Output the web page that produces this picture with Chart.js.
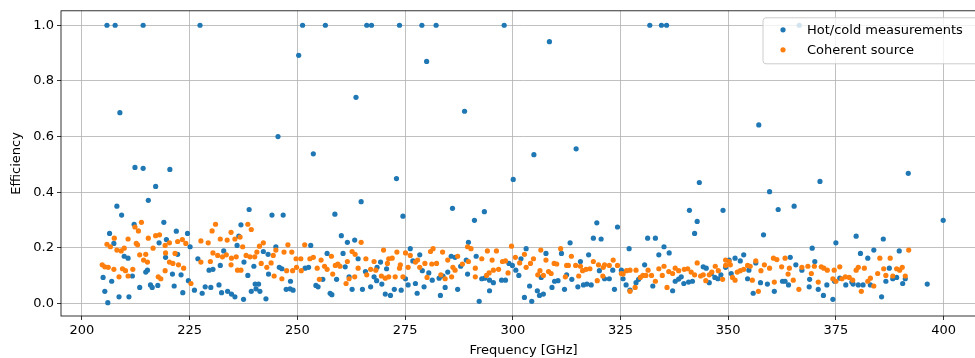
<!DOCTYPE html>
<html>
<head>
<meta charset="utf-8">
<script src="https://cdn.jsdelivr.net/npm/chart.js@4.4.1/dist/chart.umd.min.js"></script>
<style>
  html, body { margin: 0; padding: 0; background: #fff; overflow: hidden; }
</style>
</head>
<body>
<canvas id="chart" width="1000" height="358"></canvas>
<script>
// === data (frequency in GHz, efficiency) ===
const hotColdPoints = [
  [205.8, 1.0], [207.7, 1.0], [208.8, 0.686], [212.3, 0.489], [214.2, 0.486], [214.2, 1.0], [220.4, 0.482],
  [227.4, 1.0], [245.5, 0.600], [250.3, 0.892], [251.2, 1.0], [253.7, 0.538], [256.5, 1.0], [263.6, 0.741],
  [266.1, 1.0], [267.2, 1.0], [273.0, 0.449], [273.7, 1.0], [278.9, 1.0], [280.0, 0.870], [282.2, 1.0],
  [288.8, 0.691], [298.0, 1.0], [300.1, 0.446], [304.9, 0.535], [308.5, 0.941], [314.7, 0.556], [331.8, 1.0],
  [334.5, 1.0], [335.7, 1.0], [343.3, 0.435], [357.1, 0.642], [366.5, 1.0], [371.3, 0.439], [391.8, 0.468],
  [217.1, 0.421], [215.4, 0.371], [208.1, 0.350], [209.2, 0.318], [212.1, 0.285], [219.0, 0.292], [206.4, 0.252],
  [221.9, 0.260], [224.5, 0.252], [207.4, 0.216], [217.9, 0.218], [219.6, 0.230], [225.1, 0.204], [209.8, 0.170],
  [210.7, 0.163], [219.4, 0.166], [222.2, 0.177], [215.2, 0.120], [214.8, 0.113], [204.9, 0.094], [206.9, 0.080],
  [211.7, 0.099], [221.0, 0.106], [223.0, 0.103], [224.7, 0.082], [213.4, 0.058], [215.9, 0.067], [216.3, 0.058],
  [217.6, 0.065], [221.4, 0.063], [205.3, 0.044], [208.6, 0.024], [210.9, 0.024], [206.0, 0.003], [223.4, 0.039],
  [226.1, 0.048], [226.9, 0.161], [227.9, 0.037], [228.6, 0.060], [229.9, 0.058], [229.5, 0.120], [230.4, 0.123],
  [231.8, 0.067], [232.1, 0.137], [232.9, 0.189], [232.4, 0.039], [233.8, 0.044], [234.7, 0.034], [235.5, 0.024],
  [236.0, 0.209], [236.4, 0.242], [236.9, 0.283], [237.5, 0.015],
  [238.8, 0.338], [244.1, 0.318], [246.7, 0.318], [264.8, 0.366], [258.7, 0.321], [260.2, 0.244], [261.6, 0.220],
  [263.3, 0.228], [253.1, 0.209], [245.0, 0.204], [242.1, 0.187], [243.2, 0.177], [256.9, 0.180], [260.6, 0.180],
  [264.1, 0.161], [237.6, 0.149], [239.9, 0.134], [245.8, 0.130], [246.4, 0.125], [251.8, 0.127], [252.6, 0.130],
  [261.1, 0.132], [265.8, 0.115], [268.5, 0.130], [270.7, 0.125], [269.3, 0.149], [238.5, 0.101], [243.3, 0.106],
  [248.4, 0.080], [255.9, 0.087], [259.1, 0.087], [262.0, 0.096], [267.8, 0.096], [268.4, 0.082], [269.6, 0.070],
  [240.2, 0.070], [241.0, 0.070], [240.4, 0.053], [241.3, 0.044], [239.3, 0.044], [247.4, 0.051], [248.3, 0.053],
  [249.0, 0.048], [254.3, 0.065], [254.8, 0.060], [257.6, 0.037], [258.0, 0.032], [262.7, 0.051], [265.1, 0.051],
  [267.0, 0.060], [270.4, 0.034], [242.7, 0.017],
  [274.5, 0.314], [286.0, 0.342], [291.1, 0.299], [293.4, 0.330], [289.7, 0.220], [276.2, 0.197], [276.8, 0.153],
  [278.4, 0.175], [285.7, 0.170], [286.6, 0.166], [289.2, 0.156], [291.5, 0.170], [279.0, 0.118], [280.5, 0.110],
  [287.9, 0.134], [289.5, 0.106], [299.1, 0.144], [299.9, 0.137], [300.7, 0.120], [301.9, 0.161], [303.1, 0.197],
  [275.1, 0.089], [275.7, 0.067], [277.4, 0.072], [279.4, 0.060], [281.3, 0.084], [282.9, 0.091], [283.8, 0.099],
  [284.9, 0.113], [284.3, 0.058], [283.2, 0.029], [287.2, 0.051], [292.8, 0.089], [293.5, 0.091], [294.6, 0.084],
  [295.5, 0.075], [294.6, 0.046], [297.4, 0.084], [298.3, 0.084], [301.4, 0.101], [303.9, 0.063], [302.7, 0.022],
  [304.4, 0.008], [292.2, 0.008], [277.8, 0.037], [274.1, 0.048], [272.5, 0.051], [271.6, 0.029],
  [319.5, 0.290], [324.3, 0.275], [318.7, 0.235], [320.5, 0.232], [313.3, 0.218], [331.3, 0.235], [333.1, 0.235],
  [335.1, 0.204], [327.0, 0.197], [336.3, 0.182], [333.9, 0.175], [307.7, 0.180], [311.3, 0.180], [317.6, 0.175],
  [315.7, 0.151], [330.6, 0.139], [320.1, 0.118], [323.2, 0.120], [325.2, 0.120], [312.5, 0.103], [313.7, 0.087],
  [321.3, 0.089], [322.4, 0.089], [306.6, 0.094], [310.5, 0.082], [309.7, 0.080], [309.1, 0.058], [312.0, 0.051],
  [315.1, 0.060], [316.4, 0.067], [317.2, 0.070], [318.2, 0.067], [323.6, 0.051], [325.6, 0.089], [326.3, 0.067],
  [327.2, 0.048], [328.6, 0.075], [329.2, 0.087], [332.5, 0.063], [337.1, 0.046], [337.7, 0.080], [338.5, 0.088],
  [305.7, 0.046], [307.1, 0.034], [306.2, 0.029],
  [359.6, 0.402], [341.0, 0.335], [348.8, 0.335], [361.6, 0.338], [365.3, 0.350], [342.8, 0.295], [342.2, 0.252],
  [358.2, 0.247], [369.5, 0.199], [353.6, 0.175], [351.6, 0.163], [350.2, 0.156], [352.8, 0.153], [364.4, 0.166],
  [370.1, 0.151], [356.4, 0.146], [365.7, 0.139], [344.2, 0.132], [344.9, 0.127], [349.4, 0.130], [354.8, 0.120],
  [367.1, 0.120], [350.7, 0.108], [339.1, 0.096], [346.1, 0.108], [346.9, 0.094], [347.6, 0.089], [348.3, 0.103],
  [354.5, 0.089], [368.9, 0.087], [339.7, 0.072], [340.8, 0.077], [341.7, 0.080], [345.6, 0.075], [357.5, 0.075],
  [359.1, 0.070], [362.6, 0.080], [363.2, 0.080], [364.0, 0.067], [368.8, 0.060], [370.9, 0.051], [355.8, 0.037],
  [360.7, 0.044], [372.1, 0.029],
  [399.9, 0.299], [375.0, 0.218], [379.7, 0.242], [386.0, 0.232], [380.7, 0.180], [382.4, 0.163], [383.8, 0.192],
  [389.7, 0.189], [387.4, 0.127], [372.9, 0.067], [374.7, 0.080], [375.9, 0.091], [377.3, 0.067], [378.7, 0.077],
  [379.0, 0.070], [380.2, 0.067], [381.3, 0.067], [383.0, 0.067], [386.6, 0.080], [388.2, 0.089], [389.1, 0.094],
  [390.5, 0.072], [391.1, 0.089], [396.2, 0.070], [374.3, 0.015], [385.6, 0.024]
];

const coherentPoints = [
  [213.8, 0.292], [212.3, 0.275], [213.1, 0.261], [210.7, 0.232], [207.5, 0.235], [205.8, 0.213], [206.6, 0.204],
  [208.1, 0.192], [209.1, 0.189], [209.8, 0.199], [212.6, 0.216], [212.9, 0.211], [215.4, 0.235], [217.1, 0.244],
  [218.0, 0.247], [216.5, 0.199], [219.3, 0.209], [220.3, 0.218], [222.2, 0.223], [223.3, 0.230], [224.1, 0.216],
  [221.6, 0.180], [219.4, 0.182], [213.4, 0.175], [214.8, 0.177], [214.3, 0.156], [215.2, 0.149], [204.7, 0.139],
  [205.3, 0.132], [206.1, 0.130], [207.4, 0.123], [209.4, 0.125], [210.1, 0.118], [211.8, 0.123], [210.7, 0.099],
  [208.6, 0.096], [219.3, 0.118], [220.3, 0.149], [221.1, 0.144], [222.4, 0.139], [223.6, 0.127], [217.7, 0.096],
  [218.3, 0.089], [225.3, 0.072], [227.6, 0.225], [229.3, 0.218], [230.2, 0.261], [231.0, 0.285], [232.1, 0.232],
  [233.7, 0.228], [234.6, 0.256], [235.5, 0.232], [236.7, 0.239], [230.4, 0.182], [231.5, 0.173], [232.6, 0.168],
  [233.5, 0.175], [234.7, 0.163], [235.8, 0.168], [227.6, 0.149], [229.8, 0.151], [234.6, 0.139], [236.1, 0.120],
  [236.9, 0.120],
  [238.5, 0.285], [239.3, 0.266], [237.3, 0.204], [241.2, 0.206], [242.1, 0.218], [240.6, 0.185], [239.0, 0.168],
  [238.1, 0.173], [240.1, 0.168], [244.4, 0.173], [245.0, 0.192], [246.9, 0.185], [247.8, 0.211], [248.7, 0.185],
  [251.7, 0.211], [249.7, 0.161], [250.8, 0.161], [252.9, 0.161], [253.7, 0.166], [255.5, 0.156], [257.9, 0.170],
  [259.4, 0.142], [261.6, 0.151], [262.7, 0.187], [263.4, 0.177], [264.8, 0.220], [265.9, 0.161], [267.8, 0.151],
  [270.0, 0.192], [271.2, 0.161], [241.6, 0.144], [242.9, 0.130], [243.9, 0.146], [244.6, 0.099], [246.4, 0.089],
  [247.5, 0.118], [248.9, 0.118], [249.8, 0.130], [250.9, 0.118], [254.6, 0.127], [255.1, 0.087], [256.3, 0.134],
  [256.9, 0.123], [258.2, 0.106], [258.8, 0.137], [259.9, 0.134], [261.3, 0.072], [262.0, 0.089], [263.3, 0.096],
  [264.1, 0.127], [266.1, 0.103], [267.0, 0.123], [268.2, 0.120], [269.5, 0.099], [270.4, 0.091], [271.2, 0.096],
  [270.9, 0.144], [272.0, 0.163], [273.1, 0.185], [273.9, 0.139], [273.7, 0.127], [275.1, 0.182], [276.2, 0.173],
  [275.7, 0.130], [277.4, 0.149], [277.9, 0.156], [278.4, 0.130], [279.6, 0.144], [280.9, 0.187], [281.5, 0.197],
  [281.2, 0.142], [282.3, 0.144], [283.7, 0.185], [284.9, 0.156], [286.1, 0.130], [286.6, 0.120], [287.2, 0.170],
  [288.3, 0.142], [289.5, 0.204], [290.3, 0.197], [289.7, 0.151], [291.3, 0.127], [292.8, 0.161], [294.1, 0.189],
  [295.2, 0.156], [296.2, 0.189], [296.7, 0.123], [297.6, 0.151], [298.3, 0.153], [299.7, 0.206], [300.6, 0.166],
  [301.6, 0.146], [302.7, 0.177], [304.1, 0.144], [304.8, 0.161], [295.5, 0.120], [294.5, 0.110], [293.9, 0.101],
  [291.3, 0.096], [285.8, 0.096], [284.3, 0.089], [283.3, 0.103], [280.1, 0.094], [274.5, 0.096], [272.7, 0.096],
  [298.9, 0.110], [303.1, 0.130],
  [306.5, 0.192], [307.7, 0.156], [311.1, 0.197], [309.6, 0.144], [310.2, 0.142], [308.3, 0.115], [308.9, 0.108],
  [305.8, 0.103], [307.1, 0.101], [306.3, 0.118], [312.5, 0.137], [313.6, 0.170], [312.9, 0.137], [314.6, 0.137],
  [312.2, 0.096], [315.7, 0.134], [316.2, 0.118], [315.3, 0.099], [317.0, 0.123], [317.9, 0.125], [318.7, 0.151],
  [319.9, 0.139], [321.0, 0.130], [321.3, 0.139], [322.4, 0.137], [323.3, 0.156], [324.3, 0.137], [320.9, 0.099],
  [319.6, 0.082], [325.2, 0.108], [325.6, 0.106], [326.4, 0.118], [327.2, 0.120], [327.2, 0.044], [328.4, 0.058],
  [328.6, 0.120], [329.6, 0.094], [330.2, 0.101], [330.9, 0.101], [331.4, 0.120], [332.2, 0.101], [333.1, 0.080],
  [333.9, 0.125], [334.7, 0.101], [335.1, 0.134], [335.8, 0.058], [336.2, 0.115], [337.1, 0.108], [337.7, 0.127],
  [338.5, 0.118],
  [339.8, 0.123], [340.6, 0.125], [341.4, 0.113], [342.2, 0.103], [342.8, 0.146], [343.6, 0.099], [344.2, 0.103],
  [344.8, 0.082], [345.6, 0.103], [346.2, 0.113], [347.0, 0.134], [347.7, 0.118], [348.7, 0.087], [349.4, 0.137],
  [349.4, 0.156], [350.2, 0.151], [350.5, 0.139], [351.0, 0.094], [351.6, 0.084], [352.1, 0.113], [352.8, 0.118],
  [353.6, 0.123], [354.5, 0.137], [355.1, 0.134], [355.6, 0.084], [356.4, 0.153], [357.0, 0.044], [357.6, 0.118],
  [358.4, 0.139], [359.6, 0.127], [360.5, 0.163], [360.7, 0.077], [361.3, 0.158], [362.4, 0.132], [363.2, 0.163],
  [363.9, 0.106], [364.2, 0.127], [365.1, 0.084], [366.4, 0.051], [367.1, 0.130], [368.5, 0.134], [369.3, 0.108],
  [370.0, 0.134], [370.9, 0.077], [371.6, 0.132], [372.2, 0.127],
  [373.0, 0.120], [374.6, 0.120], [375.9, 0.132], [374.3, 0.089], [375.0, 0.080], [376.4, 0.089], [377.2, 0.096],
  [378.1, 0.094], [378.9, 0.084], [379.7, 0.120], [380.2, 0.130], [381.6, 0.127], [380.9, 0.044], [382.4, 0.080],
  [383.0, 0.091], [383.8, 0.063], [384.7, 0.108], [385.2, 0.163], [386.1, 0.125], [386.6, 0.101], [387.6, 0.163],
  [388.2, 0.099], [389.1, 0.125], [389.8, 0.120], [390.4, 0.130], [391.1, 0.099], [391.9, 0.192]
];

const seriesLabels = ["Hot/cold measurements", "Coherent source"];
const seriesColors = ["#1f77b4", "#ff7f0e"];
const xTicks = [200, 225, 250, 275, 300, 325, 350, 375, 400];
const yTicks = [0.0, 0.2, 0.4, 0.6, 0.8, 1.0];

// === style ===
const FONT = { family: "'DejaVu Sans', sans-serif", size: 13 };
const GRID = { color: "#b0b0b0", lineWidth: 0.8, tickColor: "#000", tickLength: 4, tickWidth: 0.8 };

// frame (all four spines) + matplotlib-like legend inside the axes
const frameAndLegend = {
    id: "frameAndLegend",
    afterDatasetsDraw(chart) {
        const { ctx, chartArea: a } = chart;
        ctx.save();
        ctx.strokeStyle = "#000";
        ctx.lineWidth = 0.8;
        ctx.strokeRect(a.left, a.top, a.right - a.left, a.bottom - a.top);

        const bx = a.right - 223, by = a.top + 7, bw = 218, bh = 46, r = 3;
        ctx.beginPath();
        ctx.moveTo(bx + r, by);
        ctx.lineTo(bx + bw - r, by);
        ctx.arcTo(bx + bw, by, bx + bw, by + r, r);
        ctx.lineTo(bx + bw, by + bh - r);
        ctx.arcTo(bx + bw, by + bh, bx + bw - r, by + bh, r);
        ctx.lineTo(bx + r, by + bh);
        ctx.arcTo(bx, by + bh, bx, by + bh - r, r);
        ctx.lineTo(bx, by + r);
        ctx.arcTo(bx, by, bx + r, by, r);
        ctx.closePath();
        ctx.fillStyle = "rgba(255,255,255,0.8)";
        ctx.fill();
        ctx.strokeStyle = "#cccccc";
        ctx.lineWidth = 1;
        ctx.stroke();

        ctx.font = `${FONT.size}px ${FONT.family}`;
        ctx.textBaseline = "middle";
        ctx.textAlign = "left";
        chart.data.datasets.forEach((ds, i) => {
            const y = by + 12 + i * 20;
            ctx.beginPath();
            ctx.arc(bx + 20, y, 2.6, 0, Math.PI * 2);
            ctx.fillStyle = ds.backgroundColor;
            ctx.fill();
            ctx.fillStyle = "#000";
            ctx.fillText(ds.label, bx + 44, y + 1);
        });
        ctx.restore();
    }
};

const toXY = pts => pts.map(p => ({ x: p[0], y: p[1] }));

new Chart(document.getElementById("chart").getContext("2d"), {
    type: "scatter",
    data: {
        datasets: [
            {
                label: seriesLabels[0],
                data: toXY(hotColdPoints),
                backgroundColor: seriesColors[0],
                pointRadius: 2.6,
                pointHoverRadius: 2.6,
                borderWidth: 0,
                order: 1,
            },
            {
                label: seriesLabels[1],
                data: toXY(coherentPoints),
                backgroundColor: seriesColors[1],
                pointRadius: 2.6,
                pointHoverRadius: 2.6,
                borderWidth: 0,
                order: 0,
            }
        ]
    },
    options: {
        responsive: false,
        animation: false,
        devicePixelRatio: 1,
        layout: { padding: { top: 10, right: 14, bottom: 0, left: 0 } },
        scales: {
            x: {
                type: "linear",
                min: 195.13,
                max: 409.84,
                afterBuildTicks: s => { s.ticks = xTicks.map(v => ({ value: v })); },
                afterFit: s => { s.height = 42; },
                grid: GRID,
                border: { display: false },
                ticks: { font: FONT, color: "#000", padding: 3, maxRotation: 0, autoSkip: false, callback: v => String(v) },
                title: { display: true, text: "Frequency [GHz]", font: FONT, color: "#000", padding: { top: 0, bottom: 0 } }
            },
            y: {
                min: -0.0448,
                max: 1.052,
                afterBuildTicks: s => { s.ticks = yTicks.map(v => ({ value: v })); },
                afterFit: s => { s.width = 61; },
                grid: GRID,
                border: { display: false },
                ticks: { font: FONT, color: "#000", padding: 3, autoSkip: false, callback: v => v.toFixed(1) },
                title: { display: true, text: "Efficiency", font: FONT, color: "#000", padding: { top: 9, bottom: 0 } }
            }
        },
        plugins: {
            legend: { display: false },
            tooltip: { enabled: false }
        }
    },
    plugins: [frameAndLegend]
});
</script>
</body>
</html>
